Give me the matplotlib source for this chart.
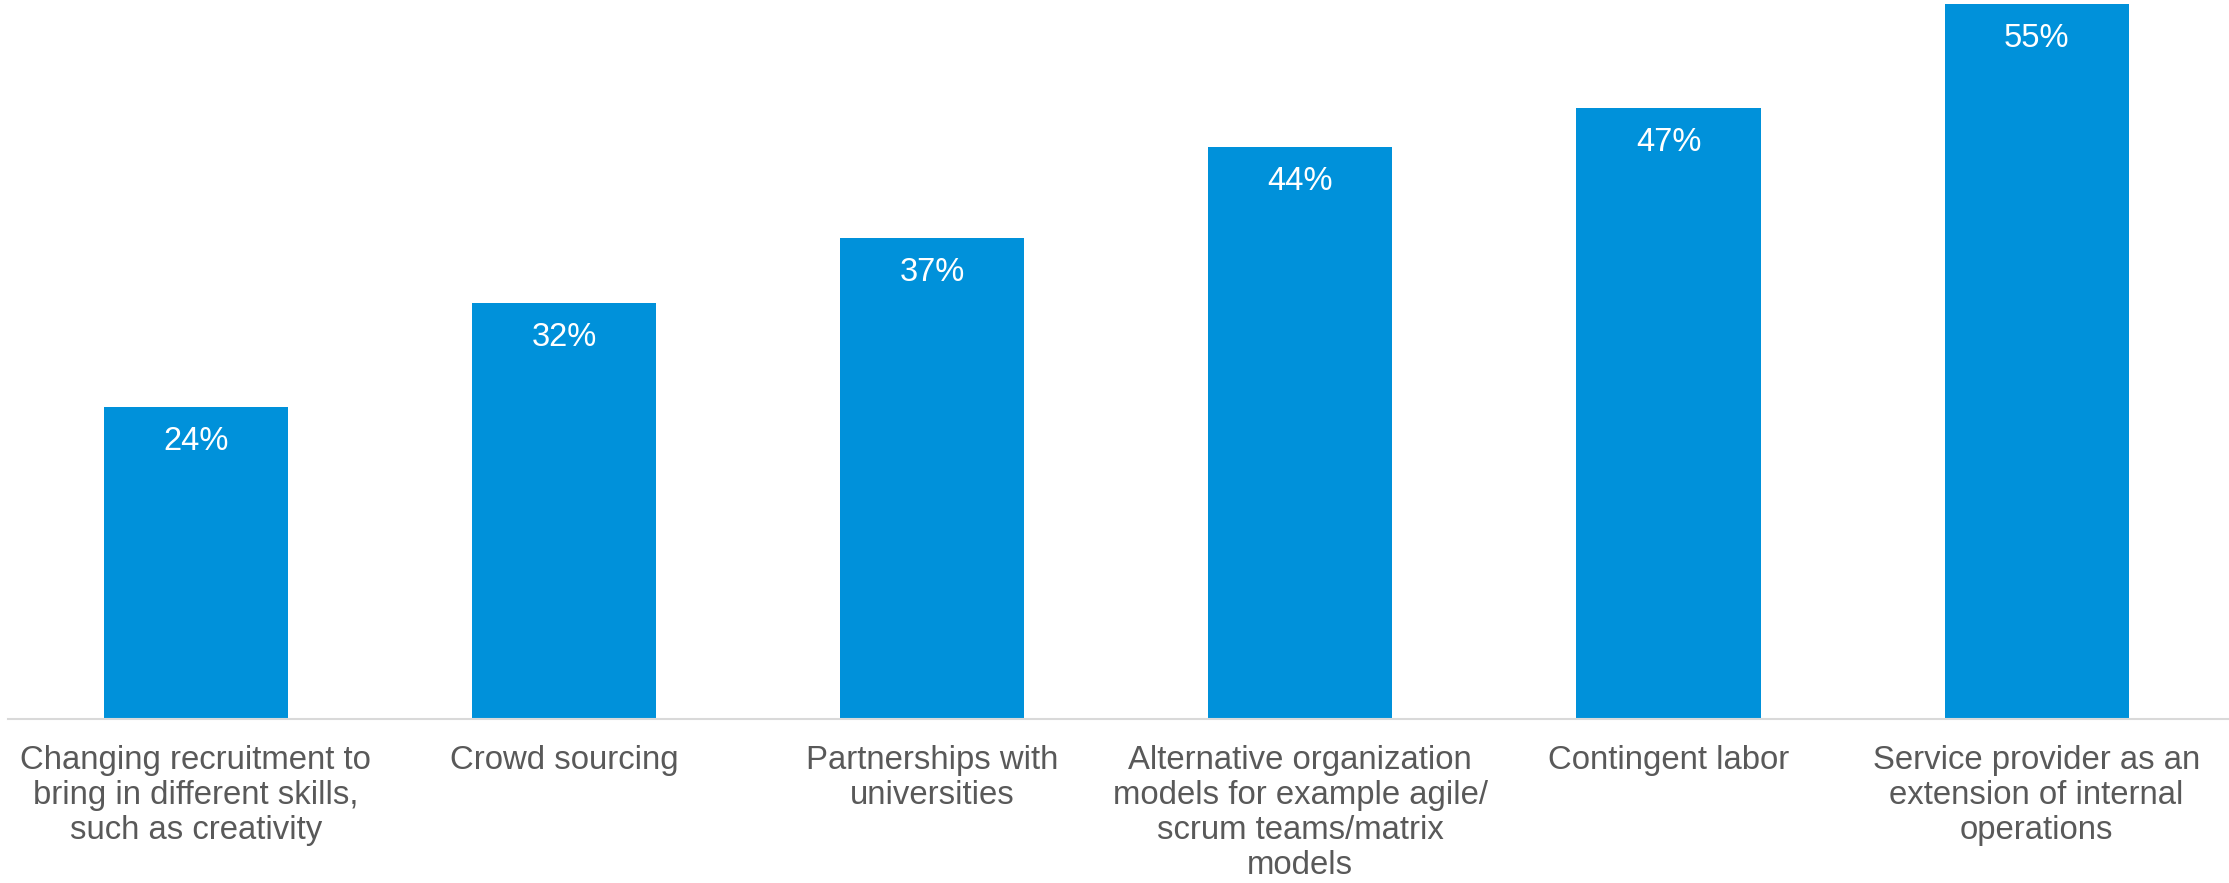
import numpy as np
import matplotlib.pyplot as plt

categories = [
    'Changing recruitment to\nbring in different skills,\nsuch as creativity',
    'Crowd sourcing',
    'Partnerships with\nuniversities',
    'Alternative organization\nmodels for example agile/\nscrum teams/matrix\nmodels',
    'Contingent labor',
    'Service provider as an\nextension of internal\noperations',
]
values = [24, 32, 37, 44, 47, 55]

BLUE = '#0091DA'
GREY = '#595959'

plt.rcParams['font.family'] = ['Liberation Sans', 'DejaVu Sans']

fig = plt.figure(figsize=(22.29, 8.83), dpi=100)
ax = fig.add_axes([0.0036, 0.186, 0.996, 0.814])

x = np.arange(len(values))
bars = ax.bar(x, values, width=0.5, color=BLUE, zorder=2)

# percentage labels inside the top of each bar
for xi, v in zip(x, values):
    ax.annotate(f'{v}%', xy=(xi, v), xytext=(0, -13.5), textcoords='offset points',
                ha='center', va='top', color='white', fontsize=23.5)

ax.set_xlim(-0.51, 5.52)
ax.set_ylim(0, 55.3)
ax.set_xticks(x)
ax.set_xticklabels(categories, fontsize=23.7, color=GREY, linespacing=1.16, va='top')
ax.tick_params(axis='x', length=0, pad=19)
ax.set_yticks([])

for s in ['top', 'right', 'left']:
    ax.spines[s].set_visible(False)
ax.spines['bottom'].set_color('#D9D9D9')
ax.spines['bottom'].set_linewidth(1.5)
ax.spines['bottom'].set_zorder(3)

fig.savefig('out.png', dpi=100)
